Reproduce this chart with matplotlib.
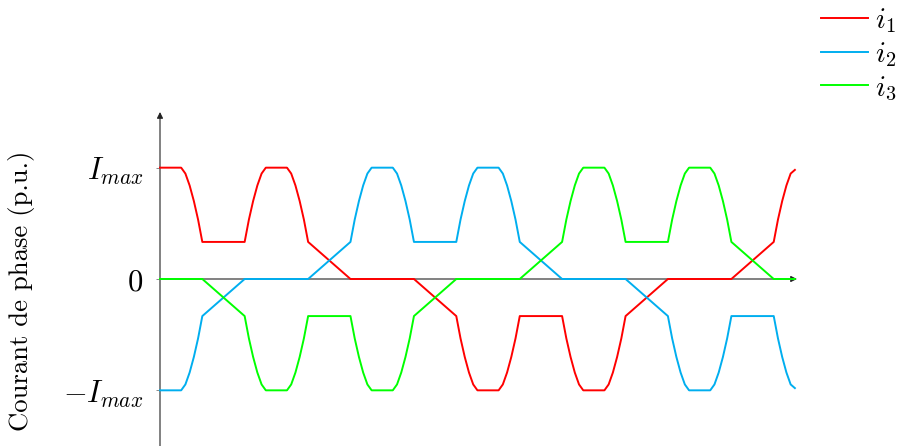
import matplotlib
matplotlib.use("Agg")
import matplotlib.pyplot as plt

plt.rcParams['mathtext.fontset'] = 'cm'

# ---- data (x in electrical-angle units, y in p.u. of I_max) ----
x_i1 = [0, 1, 1.2, 1.4, 1.6, 1.8, 2, 4, 4.2, 4.4, 4.6, 4.8, 5, 6, 6.2, 6.4, 6.6, 6.8, 7, 9, 12,
        14, 14.2, 14.4, 14.6, 14.8, 15, 16, 16.2, 16.4, 16.6, 16.8, 17, 19, 19.2, 19.4, 19.6, 19.8, 20,
        21, 21.2, 21.4, 21.6, 21.8, 22, 24, 27, 29, 29.2, 29.4, 29.6, 29.8, 30]
y_i1 = [1, 1, .947, .84, .70, .533, .333, .333, .533, .70, .84, .947, 1, 1, .947, .84, .70, .533, .333, 0, 0,
        -.333, -.533, -.70, -.84, -.947, -1, -1, -.947, -.84, -.70, -.533, -.333, -.333, -.533, -.70, -.84, -.947, -1,
        -1, -.947, -.84, -.70, -.533, -.333, 0, 0, .333, .533, .70, .84, .947, .98]

x_i2 = [0, 1, 1.2, 1.4, 1.6, 1.8, 2, 4, 7, 9, 9.2, 9.4, 9.6, 9.8, 10, 11, 11.2, 11.4, 11.6, 11.8, 12,
        14, 14.2, 14.4, 14.6, 14.8, 15, 16, 16.2, 16.4, 16.6, 16.8, 17, 19, 22, 24, 24.2, 24.4, 24.6, 24.8, 25,
        26, 26.2, 26.4, 26.6, 26.8, 27, 29, 29.2, 29.4, 29.6, 29.8, 30]
y_i2 = [-1, -1, -.947, -.84, -.70, -.533, -.333, 0, 0, .333, .533, .70, .84, .947, 1, 1, .947, .84, .70, .533, .333,
        .333, .533, .70, .84, .947, 1, 1, .947, .84, .70, .533, .333, 0, 0, -.333, -.533, -.70, -.84, -.947, -1,
        -1, -.947, -.84, -.70, -.533, -.333, -.333, -.533, -.70, -.84, -.947, -.98]

x_i3 = [0, 2, 4, 4.2, 4.4, 4.6, 4.8, 5, 6, 6.2, 6.4, 6.6, 6.8, 7, 9, 9.2, 9.4, 9.6, 9.8, 10,
        11, 11.2, 11.4, 11.6, 11.8, 12, 14, 17, 19, 19.2, 19.4, 19.6, 19.8, 20,
        21, 21.2, 21.4, 21.6, 21.8, 22, 24, 24.2, 24.4, 24.6, 24.8, 25,
        26, 26.2, 26.4, 26.6, 26.8, 27, 29, 30]
y_i3 = [0, 0, -.333, -.533, -.70, -.84, -.947, -1, -1, -.947, -.84, -.70, -.533, -.333, -.333, -.533, -.70, -.84, -.947, -1,
        -1, -.947, -.84, -.70, -.533, -.333, 0, 0, .333, .533, .70, .84, .947, 1,
        1, .947, .84, .70, .533, .333, .333, .533, .70, .84, .947, 1,
        1, .947, .84, .70, .533, .333, 0, 0]

series_labels = [r'$i_1$', r'$i_2$', r'$i_3$']
series_colors = ['#ff0000', '#00aeef', '#00ff00']
ytick_values = [-1, 0, 1]
ytick_labels = [r'$-I_{max}$', r'$0$', r'$I_{max}$']
ylabel_text = 'Courant de phase (p.u.)'

W, H = 899, 446
fig = plt.figure(figsize=(W / 100, H / 100), dpi=100)
ax = fig.add_axes([160 / W, 0, (797 - 160) / W, 1 - 112 / H])
ax.set_xlim(0, 30.1)
ax.set_ylim(-1.5, 1.5)
for s in ax.spines.values():
    s.set_visible(False)
ax.set_xticks([])
ax.set_yticks(ytick_values)
ax.set_yticklabels(ytick_labels, fontsize=22)
ax.tick_params(axis='y', length=3, width=0.6, color='#777777', pad=9)

# axes arrows
ax.annotate('', xy=(0, 1.5), xytext=(0, -1.5),
            arrowprops=dict(arrowstyle='-|>', lw=0.8, color='#222222', mutation_scale=9,
                            shrinkA=0, shrinkB=0), annotation_clip=False, zorder=1)
ax.annotate('', xy=(30.1, 0), xytext=(0, 0),
            arrowprops=dict(arrowstyle='-|>', lw=0.8, color='#222222', mutation_scale=9,
                            shrinkA=0, shrinkB=0), annotation_clip=False, zorder=1)

handles = []
for xs, ys, c, lab in zip([x_i1, x_i2, x_i3], [y_i1, y_i2, y_i3], series_colors, series_labels):
    h, = ax.plot(xs, ys, color=c, lw=1.4, label=lab, zorder=3, clip_on=False)
    handles.append(h)

fig.text(22 / W, 1 - 291 / H, ylabel_text, rotation=90, ha='center', va='center',
         fontsize=19.2, fontfamily='cmr10')

fig.legend(handles=handles, labels=series_labels, loc='upper left',
           bbox_to_anchor=(815 / W, 1.0), frameon=False, fontsize=21,
           handlelength=1.6, handletextpad=0.25, labelspacing=0.17, borderpad=0.2,
           borderaxespad=0)

fig.savefig('out.png', dpi=100)
